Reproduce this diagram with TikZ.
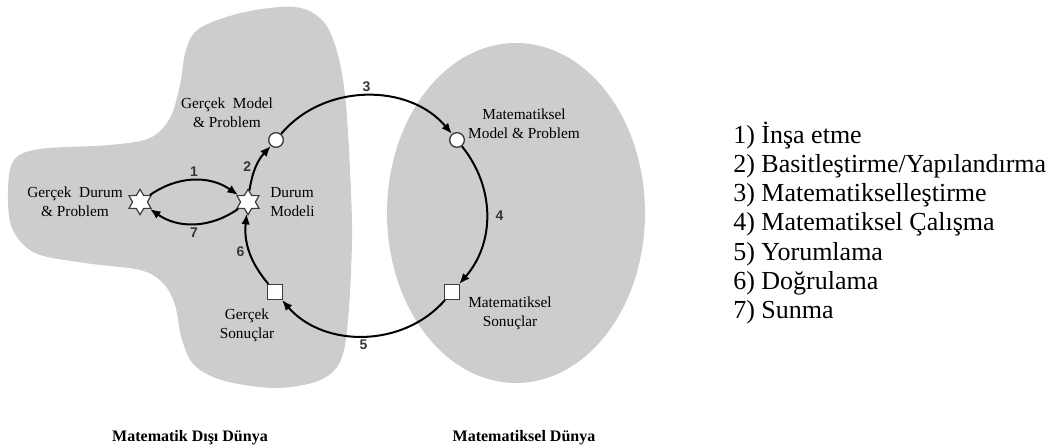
\documentclass[tikz,border=0pt]{standalone}
\usepackage{fontspec}
\setmainfont{Liberation Serif}
\newfontfamily\numfont{Liberation Sans}
\usetikzlibrary{arrows.meta,shapes.geometric}
\definecolor{blobgray}{RGB}{205,205,205}
\definecolor{edgegray}{RGB}{60,60,60}
\definecolor{numgray}{RGB}{55,55,55}
\tikzset{
  arr/.style={line width=1.5pt, -{Latex[length=8pt,width=6.5pt]}},
  starnode/.style={star, star points=6, star point ratio=1.7, minimum size=19pt, inner sep=0pt, draw=edgegray, fill=white, line width=0.9pt},
  circnode/.style={circle, minimum size=11pt, inner sep=0pt, draw=edgegray, fill=white, line width=1pt},
  sqnode/.style={rectangle, minimum size=11pt, inner sep=0pt, draw=edgegray, fill=white, line width=1pt},
  lbl/.style={font=\fontsize{11.5}{14.3}\selectfont, align=center, inner sep=0pt},
  num/.style={font=\numfont\bfseries\fontsize{10.5}{12}\selectfont, text=numgray, inner sep=1pt},
  world/.style={font=\bfseries\fontsize{12}{14}\selectfont, inner sep=0pt},
  legend/.style={font=\fontsize{19.5}{21.8}\selectfont, align=left, inner sep=0pt}
}
\begin{document}
\begin{tikzpicture}[x=0.75pt,y=-0.75pt]
\useasboundingbox (0,0) rectangle (1060,448);
% background shapes
\fill[blobgray] plot[smooth cycle, tension=0.55] coordinates {(245,12) (295,7) (322,20) (336,48) (345,95) (350,170) (352,240) (348,320) (340,362) (318,381) (275,388) (225,381) (195,366) (182,340) (175,305) (163,283) (140,270) (85,263) (35,253) (12,228) (8,190) (14,160) (40,149) (110,145) (150,138) (170,118) (180,85) (186,50) (200,28)};
\fill[blobgray] (516,213) ellipse [x radius=129, y radius=170];
% nodes
\node[starnode] (gd) at (140,202) {};
\node[starnode] (dm) at (248,202) {};
\node[circnode] (gm) at (276,140) {};
\node[circnode] (mm) at (457,140) {};
\node[sqnode] (ms) at (452,292) {};
\node[sqnode] (gs) at (275,292) {};
% labels
\node[lbl] (tgd) at (75,202) {Gerçek\ \ Durum\\\& Problem};
\node[lbl, align=left, anchor=west] (tdm) at (270,202) {Durum\\Modeli};
\node[lbl] (tgm) at (227,113) {Gerçek\ \ Model\\\& Problem};
\node[lbl] (tmm) at (524,124) {Matematiksel\\Model \& Problem};
\node[lbl] (tms) at (510,313) {Matematiksel\\Sonuçlar};
\node[lbl] (tgs) at (247,325) {Gerçek\\Sonuçlar};
% connectors
\draw[arr] (gd) to[bend left=35] node[num, above=1pt] (n1) {1} (dm);
\draw[arr] (dm) to[bend left=35] node[num, below=1pt] (n7) {7} (gd);
\draw[arr] (dm) to[bend left=17] node[num, left=2pt] (n2) {2} (gm);
\draw[arr] (gm) to[bend left=50] node[num, above=1pt] (n3) {3} (mm);
\draw[arr] (mm) to[bend left=40] node[num, right=5pt] (n4) {4} (ms);
\draw[arr] (ms) to[bend left=49] node[num, below=1pt] (n5) {5} (gs);
\draw[arr] (gs) to[bend left=23] node[num, left=2pt] (n6) {6} (dm);
% world titles
\node[world] (w1) at (190,438) {Matematik Dışı Dünya};
\node[world] (w2) at (524,438) {Matematiksel Dünya};
% legend
\node[legend, anchor=west] (leg) at (733,223) {1) İnşa etme\\2) Basitleştirme/Yapılandırma\\3) Matematikselleştirme\\4) Matematiksel Çalışma\\5) Yorumlama\\6) Doğrulama\\7) Sunma};
\end{tikzpicture}
\end{document}
